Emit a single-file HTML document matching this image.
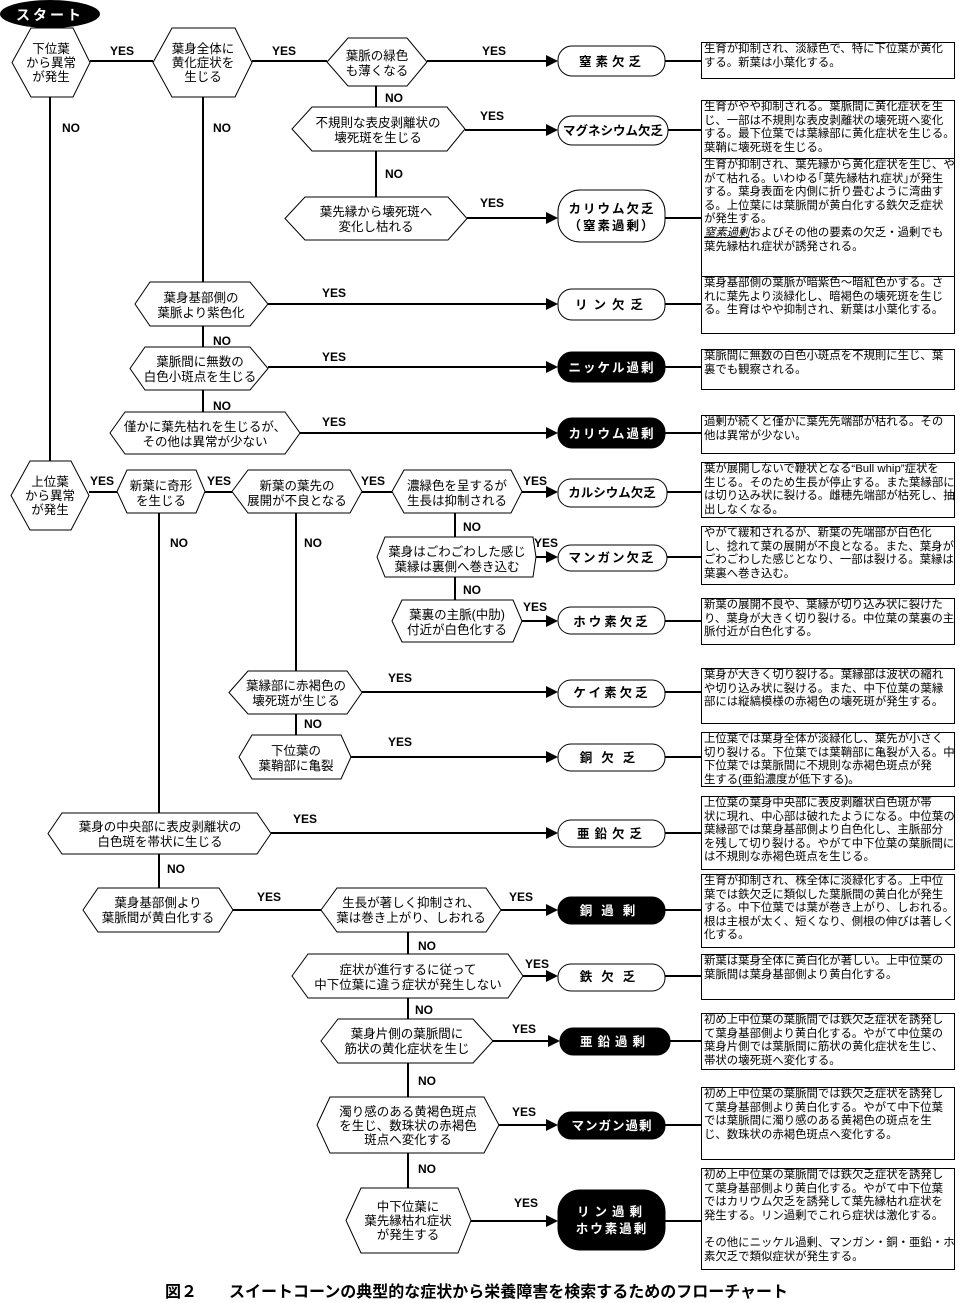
<!DOCTYPE html>
<html><head><meta charset="utf-8"><style>
body{margin:0;background:#fff;}
#c{position:relative;width:959px;height:1303px;overflow:hidden;background:#fff;font-family:"Liberation Sans","Noto Sans CJK JP",sans-serif;}
svg{position:absolute;left:0;top:0;}
.b{position:absolute;left:701px;width:250px;border:1px solid #000;font-size:11.4px;line-height:13.6px;padding:0 0 0 2px;white-space:nowrap;overflow:hidden;color:#000;background:#fff;}
.cap{position:absolute;left:165px;top:1278px;font-size:16px;font-weight:bold;white-space:pre;font-family:"Liberation Sans","Noto Sans CJK JP",sans-serif;}
</style></head><body><div id="c">
<svg width="959" height="1303" viewBox="0 0 959 1303" font-family="Liberation Sans, Noto Sans CJK JP, sans-serif">
<g stroke="#000" stroke-width="2" fill="none">
<line x1="90" y1="61" x2="153" y2="61"/><line x1="252" y1="61" x2="327" y2="61"/><line x1="427" y1="61" x2="548" y2="61"/>
<line x1="376" y1="86" x2="376" y2="107"/><line x1="376" y1="151" x2="376" y2="197"/>
<line x1="465" y1="130" x2="548" y2="130"/><line x1="467" y1="218" x2="548" y2="218"/>
<line x1="50" y1="97" x2="50" y2="461"/>
<line x1="203" y1="97" x2="203" y2="282"/><line x1="203" y1="326" x2="203" y2="347"/><line x1="203" y1="390" x2="203" y2="412"/>
<line x1="268" y1="304" x2="548" y2="304"/><line x1="268" y1="367" x2="548" y2="367"/><line x1="300" y1="433" x2="548" y2="433"/>
<line x1="89" y1="492" x2="117" y2="492"/><line x1="205" y1="492" x2="232" y2="492"/><line x1="362" y1="492" x2="392" y2="492"/><line x1="522" y1="492" x2="548" y2="492"/>
<line x1="455" y1="513" x2="455" y2="537"/><line x1="455" y1="577" x2="455" y2="600"/>
<line x1="536" y1="557" x2="548" y2="557"/><line x1="522" y1="621" x2="548" y2="621"/>
<line x1="296" y1="513" x2="296" y2="671"/><line x1="296" y1="714" x2="296" y2="735"/>
<line x1="362" y1="692" x2="548" y2="692"/><line x1="351" y1="757" x2="548" y2="757"/>
<line x1="159" y1="513" x2="159" y2="813"/><line x1="159" y1="854" x2="159" y2="888"/>
<line x1="271" y1="833" x2="548" y2="833"/>
<line x1="233" y1="910" x2="321" y2="910"/><line x1="501" y1="910" x2="548" y2="910"/>
<line x1="408" y1="932" x2="408" y2="954"/><line x1="408" y1="998" x2="408" y2="1019"/><line x1="408" y1="1063" x2="408" y2="1097"/><line x1="408" y1="1153" x2="408" y2="1188"/>
<line x1="523" y1="976" x2="548" y2="976"/><line x1="493" y1="1041" x2="550" y2="1041"/><line x1="499" y1="1125" x2="548" y2="1125"/><line x1="471" y1="1221" x2="548" y2="1221"/>
<line x1="665" y1="61" x2="701" y2="61"/><line x1="668" y1="130" x2="701" y2="130"/><line x1="665" y1="218" x2="701" y2="218"/>
<line x1="665" y1="304" x2="701" y2="304"/><line x1="665" y1="367" x2="701" y2="367"/><line x1="665" y1="433" x2="701" y2="433"/>
<line x1="667" y1="492" x2="701" y2="492"/><line x1="667" y1="557" x2="701" y2="557"/><line x1="665" y1="621" x2="701" y2="621"/>
<line x1="665" y1="692" x2="701" y2="692"/><line x1="665" y1="757" x2="701" y2="757"/><line x1="665" y1="833" x2="701" y2="833"/>
<line x1="665" y1="910" x2="701" y2="910"/><line x1="665" y1="976" x2="701" y2="976"/><line x1="670" y1="1041" x2="701" y2="1041"/>
<line x1="665" y1="1125" x2="701" y2="1125"/><line x1="665" y1="1221" x2="701" y2="1221"/>
</g>
<g fill="#000">
<polygon points="546,55 558,61 546,67"/><polygon points="546,124 558,130 546,136"/><polygon points="546,212 558,218 546,224"/>
<polygon points="546,298 558,304 546,310"/><polygon points="546,361 558,367 546,373"/><polygon points="546,427 558,433 546,439"/>
<polygon points="546,486 558,492 546,498"/><polygon points="546,551 558,557 546,563"/><polygon points="546,615 558,621 546,627"/>
<polygon points="546,686 558,692 546,698"/><polygon points="546,751 558,757 546,763"/><polygon points="546,827 558,833 546,839"/>
<polygon points="546,904 558,910 546,916"/><polygon points="546,970 558,976 546,982"/><polygon points="548,1035 560,1041 548,1047"/>
<polygon points="546,1119 558,1125 546,1131"/><polygon points="546,1215 558,1221 546,1227"/>
<ellipse cx="50" cy="14" rx="50" ry="14"/>
</g>
<text x="50" y="20" fill="#fff" font-size="14" font-weight="bold" text-anchor="middle" letter-spacing="3">スタート</text>
<g fill="#fff" stroke="#000" stroke-width="1">
<polygon points="12,62.5 31,28 73,28 90,62.5 73,97 31,97"/>
<polygon points="153,62.5 172,28 235,28 252,62.5 235,97 172,97"/>
<polygon points="327,62 348,38 407,38 427,62 407,86 348,86"/>
<polygon points="292,129 312,107 447,107 465,129 447,151 312,151"/>
<polygon points="285,218.5 305,197 448,197 467,218.5 448,240 305,240"/>
<polygon points="135,304 150,282 250,282 268,304 250,326 150,326"/>
<polygon points="130,368.5 145,347 250,347 268,368.5 250,390 145,390"/>
<polygon points="110,433 125,412 285,412 300,433 285,454 125,454"/>
<polygon points="11,495.5 30,461 71,461 89,495.5 71,530 30,530"/>
<polygon points="117,491.5 127,470 196,470 205,491.5 196,513 127,513"/>
<polygon points="232,491.5 248,470 350,470 362,491.5 350,513 248,513"/>
<polygon points="392,491.5 404,470 511,470 522,491.5 511,513 404,513"/>
<polygon points="377,557 385,537 533,537 536,557 533,577 385,577"/>
<polygon points="392,621 402,600 513,600 522,621 513,642 402,642"/>
<polygon points="229,692.5 248,671 347,671 362,692.5 347,714 248,714"/>
<polygon points="239,757 252,735 341,735 351,757 341,779 252,779"/>
<polygon points="48,833.5 62,813 257,813 271,833.5 257,854 62,854"/>
<polygon points="83,910 98,888 219,888 233,910 219,932 98,932"/>
<polygon points="321,910 337,888 486,888 501,910 486,932 337,932"/>
<polygon points="292,976 308,954 508,954 523,976 508,998 308,998"/>
<polygon points="321,1041 338,1019 473,1019 493,1041 473,1063 338,1063"/>
<polygon points="317,1125 330,1097 484,1097 499,1125 484,1153 330,1153"/>
<polygon points="346,1220.5 361,1188 458,1188 471,1220.5 458,1253 361,1253"/>
</g>
<g stroke="#000" stroke-width="1">
<rect x="558" y="46" width="107" height="30" rx="14" fill="#fff"/>
<rect x="558" y="116" width="110" height="29" rx="14" fill="#fff"/>
<rect x="558" y="190" width="107" height="52" rx="22" fill="#fff"/>
<rect x="558" y="289" width="107" height="31" rx="14" fill="#fff"/>
<rect x="558" y="352" width="107" height="30" rx="14" fill="#000"/>
<rect x="558" y="418" width="107" height="30" rx="14" fill="#000"/>
<rect x="558" y="479" width="109" height="28" rx="13" fill="#fff"/>
<rect x="558" y="545" width="109" height="26" rx="13" fill="#fff"/>
<rect x="558" y="607" width="107" height="27" rx="13" fill="#fff"/>
<rect x="558" y="680" width="107" height="27" rx="13" fill="#fff"/>
<rect x="558" y="744" width="107" height="27" rx="13" fill="#fff"/>
<rect x="558" y="820" width="107" height="27" rx="13" fill="#fff"/>
<rect x="558" y="897" width="107" height="27" rx="13" fill="#000"/>
<rect x="558" y="964" width="107" height="27" rx="13" fill="#fff"/>
<rect x="560" y="1028" width="110" height="27" rx="13" fill="#000"/>
<rect x="558" y="1112" width="107" height="27" rx="13" fill="#000"/>
<rect x="558" y="1190" width="107" height="60" rx="22" fill="#000"/>
</g>
<g font-size="12.5" font-weight="bold" text-anchor="middle">
<text x="612" y="66" letter-spacing="4">窒素欠乏</text>
<text x="613" y="135">マグネシウム欠乏</text>
<text x="612" y="213" letter-spacing="2">カリウム欠乏</text>
<text x="612" y="230" letter-spacing="2">（窒素過剰）</text>
<text x="612" y="309" letter-spacing="6">リン欠乏</text>
<text x="612" y="372" fill="#fff" letter-spacing="2">ニッケル過剰</text>
<text x="612" y="438" fill="#fff" letter-spacing="2">カリウム過剰</text>
<text x="612" y="497">カルシウム欠乏</text>
<text x="612" y="562" letter-spacing="2">マンガン欠乏</text>
<text x="612" y="626" letter-spacing="3">ホウ素欠乏</text>
<text x="612" y="697" letter-spacing="3">ケイ素欠乏</text>
<text x="612" y="762" letter-spacing="9">銅欠乏</text>
<text x="612" y="838" letter-spacing="5">亜鉛欠乏</text>
<text x="612" y="915" fill="#fff" letter-spacing="9">銅過剰</text>
<text x="612" y="981" letter-spacing="9">鉄欠乏</text>
<text x="615" y="1046" fill="#fff" letter-spacing="5">亜鉛過剰</text>
<text x="612" y="1130" fill="#fff" letter-spacing="1">マンガン過剰</text>
<text x="612" y="1216" fill="#fff" letter-spacing="5">リン過剰</text>
<text x="612" y="1233" fill="#fff" letter-spacing="2">ホウ素過剰</text>
</g>
<g font-size="12.5" text-anchor="middle">
<text x="51" y="53">下位葉</text><text x="51" y="67">から異常</text><text x="51" y="81">が発生</text>
<text x="203" y="53">葉身全体に</text><text x="203" y="67">黄化症状を</text><text x="203" y="81">生じる</text>
<text x="377" y="60">葉脈の緑色</text><text x="377" y="75">も薄くなる</text>
<text x="378" y="127">不規則な表皮剥離状の</text><text x="378" y="142">壊死斑を生じる</text>
<text x="376" y="216">葉先縁から壊死斑へ</text><text x="376" y="231">変化し枯れる</text>
<text x="201" y="302">葉身基部側の</text><text x="201" y="317">葉脈より紫色化</text>
<text x="200" y="366">葉脈間に無数の</text><text x="200" y="381">白色小斑点を生じる</text>
<text x="205" y="431">僅かに葉先枯れを生じるが、</text><text x="205" y="446">その他は異常が少ない</text>
<text x="50" y="486">上位葉</text><text x="50" y="500">から異常</text><text x="50" y="514">が発生</text>
<text x="161" y="490">新葉に奇形</text><text x="161" y="505">を生じる</text>
<text x="297" y="490">新葉の葉先の</text><text x="297" y="505">展開が不良となる</text>
<text x="457" y="490">濃緑色を呈するが</text><text x="457" y="505">生長は抑制される</text>
<text x="457" y="556">葉身はごわごわした感じ</text><text x="457" y="571">葉縁は裏側へ巻き込む</text>
<text x="457" y="619">葉裏の主脈(中肋)</text><text x="457" y="634">付近が白色化する</text>
<text x="296" y="690">葉縁部に赤褐色の</text><text x="296" y="705">壊死斑が生じる</text>
<text x="296" y="755">下位葉の</text><text x="296" y="770">葉鞘部に亀裂</text>
<text x="160" y="831">葉身の中央部に表皮剥離状の</text><text x="160" y="846">白色斑を帯状に生じる</text>
<text x="158" y="907">葉身基部側より</text><text x="158" y="922">葉脈間が黄白化する</text>
<text x="411" y="907">生長が著しく抑制され、</text><text x="411" y="922">葉は巻き上がり、しおれる</text>
<text x="408" y="974">症状が進行するに従って</text><text x="408" y="989">中下位葉に違う症状が発生しない</text>
<text x="407" y="1038">葉身片側の葉脈間に</text><text x="407" y="1053">筋状の黄化症状を生じ</text>
<text x="408" y="1116">濁り感のある黄褐色斑点</text><text x="408" y="1130">を生じ、数珠状の赤褐色</text><text x="408" y="1144">斑点へ変化する</text>
<text x="408" y="1211">中下位葉に</text><text x="408" y="1225">葉先縁枯れ症状</text><text x="408" y="1239">が発生する</text>
</g>
<g font-size="12" font-weight="bold" font-family="Liberation Sans, sans-serif">
<text x="110" y="55">YES</text><text x="272" y="55">YES</text><text x="482" y="55">YES</text>
<text x="480" y="120">YES</text><text x="480" y="207">YES</text>
<text x="322" y="297">YES</text><text x="322" y="361">YES</text><text x="322" y="426">YES</text>
<text x="90" y="485">YES</text><text x="207" y="485">YES</text><text x="361" y="485">YES</text><text x="523" y="485">YES</text>
<text x="534" y="547">YES</text><text x="523" y="611">YES</text>
<text x="388" y="682">YES</text><text x="388" y="746">YES</text>
<text x="293" y="823">YES</text><text x="257" y="901">YES</text><text x="509" y="901">YES</text>
<text x="525" y="968">YES</text><text x="512" y="1033">YES</text><text x="512" y="1116">YES</text><text x="514" y="1207">YES</text>
<text x="62" y="132">NO</text><text x="213" y="132">NO</text><text x="385" y="102">NO</text><text x="385" y="178">NO</text>
<text x="213" y="345">NO</text><text x="213" y="410">NO</text>
<text x="170" y="547">NO</text><text x="304" y="547">NO</text>
<text x="463" y="531">NO</text><text x="463" y="594">NO</text><text x="304" y="728">NO</text>
<text x="167" y="873">NO</text><text x="418" y="950">NO</text><text x="415" y="1014">NO</text><text x="418" y="1085">NO</text><text x="418" y="1173">NO</text>
</g>
</svg>
<div class="b" style="top:42px;height:35px">生育が抑制され、淡緑色で、特に下位葉が黄化<br>する。新葉は小葉化する。</div>
<div class="b" style="top:100px;height:57px">生育がやや抑制される。葉脈間に黄化症状を生<br>じ、一部は不規則な表皮剥離状の壊死斑へ変化<br>する。最下位葉では葉縁部に黄化症状を生じる。<br>葉鞘に壊死斑を生じる。</div>
<div class="b" style="top:158px;height:117px">生育が抑制され、葉先縁から黄化症状を生じ、や<br>がて枯れる。いわゆる｢葉先縁枯れ症状｣が発生<br>する。葉身表面を内側に折り畳むように湾曲す<br>る。上位葉には葉脈間が黄白化する鉄欠乏症状<br>が発生する。<br><i><u>窒素過剰</u></i>およびその他の要素の欠乏・過剰でも<br>葉先縁枯れ症状が誘発される。</div>
<div class="b" style="top:276px;height:56px">葉身基部側の葉脈が暗紫色～暗紅色かする。さ<br>れに葉先より淡緑化し、暗褐色の壊死斑を生じ<br>る。生育はやや抑制され、新葉は小葉化する。</div>
<div class="b" style="top:349px;height:39px">葉脈間に無数の白色小斑点を不規則に生じ、葉<br>裏でも観察される。</div>
<div class="b" style="top:415px;height:37px">過剰が続くと僅かに葉先先端部が枯れる。その<br>他は異常が少ない。</div>
<div class="b" style="top:462px;height:54px">葉が展開しないで鞭状となる“Bull whip”症状を<br>生じる。そのため生長が停止する。また葉縁部に<br>は切り込み状に裂ける。雌穂先端部が枯死し、抽<br>出しなくなる。</div>
<div class="b" style="top:526px;height:57px">やがて緩和されるが、新葉の先端部が白色化<br>し、捻れて葉の展開が不良となる。また、葉身が<br>ごわごわした感じとなり、一部は裂ける。葉縁は<br>葉裏へ巻き込む。</div>
<div class="b" style="top:598px;height:45px">新葉の展開不良や、葉縁が切り込み状に裂けた<br>り、葉身が大きく切り裂ける。中位葉の葉裏の主<br>脈付近が白色化する。</div>
<div class="b" style="top:668px;height:54px">葉身が大きく切り裂ける。葉縁部は波状の縮れ<br>や切り込み状に裂ける。また、中下位葉の葉縁<br>部には縦縞模様の赤褐色の壊死斑が発生する。</div>
<div class="b" style="top:732px;height:53px">上位葉では葉身全体が淡緑化し、葉先が小さく<br>切り裂ける。下位葉では葉鞘部に亀裂が入る。中<br>下位葉では葉脈間に不規則な赤褐色斑点が発<br>生する(亜鉛濃度が低下する)。</div>
<div class="b" style="top:796px;height:72px">上位葉の葉身中央部に表皮剥離状白色斑が帯<br>状に現れ、中心部は破れたようになる。中位葉の<br>葉縁部では葉身基部側より白色化し、主脈部分<br>を残して切り裂ける。やがて中下位葉の葉脈間に<br>は不規則な赤褐色斑点を生じる。</div>
<div class="b" style="top:874px;height:72px">生育が抑制され、株全体に淡緑化する。上中位<br>葉では鉄欠乏に類似した葉脈間の黄白化が発生<br>する。中下位葉では葉が巻き上がり、しおれる。<br>根は主根が太く、短くなり、側根の伸びは著しく悪<br>化する。</div>
<div class="b" style="top:954px;height:44px">新葉は葉身全体に黄白化が著しい。上中位葉の<br>葉脈間は葉身基部側より黄白化する。</div>
<div class="b" style="top:1013px;height:55px">初め上中位葉の葉脈間では鉄欠乏症状を誘発し<br>て葉身基部側より黄白化する。やがて中位葉の<br>葉身片側では葉脈間に筋状の黄化症状を生じ、<br>帯状の壊死斑へ変化する。</div>
<div class="b" style="top:1087px;height:71px">初め上中位葉の葉脈間では鉄欠乏症状を誘発し<br>て葉身基部側より黄白化する。やがて中下位葉<br>では葉脈間に濁り感のある黄褐色の斑点を生<br>じ、数珠状の赤褐色斑点へ変化する。</div>
<div class="b" style="top:1168px;height:100px">初め上中位葉の葉脈間では鉄欠乏症状を誘発し<br>て葉身基部側より黄白化する。やがて中下位葉<br>ではカリウム欠乏を誘発して葉先縁枯れ症状を<br>発生する。リン過剰でこれら症状は激化する。<br><br>その他にニッケル過剰、マンガン・銅・亜鉛・ホウ<br>素欠乏で類似症状が発生する。</div>
<div class="cap">図２　　スイートコーンの典型的な症状から栄養障害を検索するためのフローチャート</div>
</div></body></html>
